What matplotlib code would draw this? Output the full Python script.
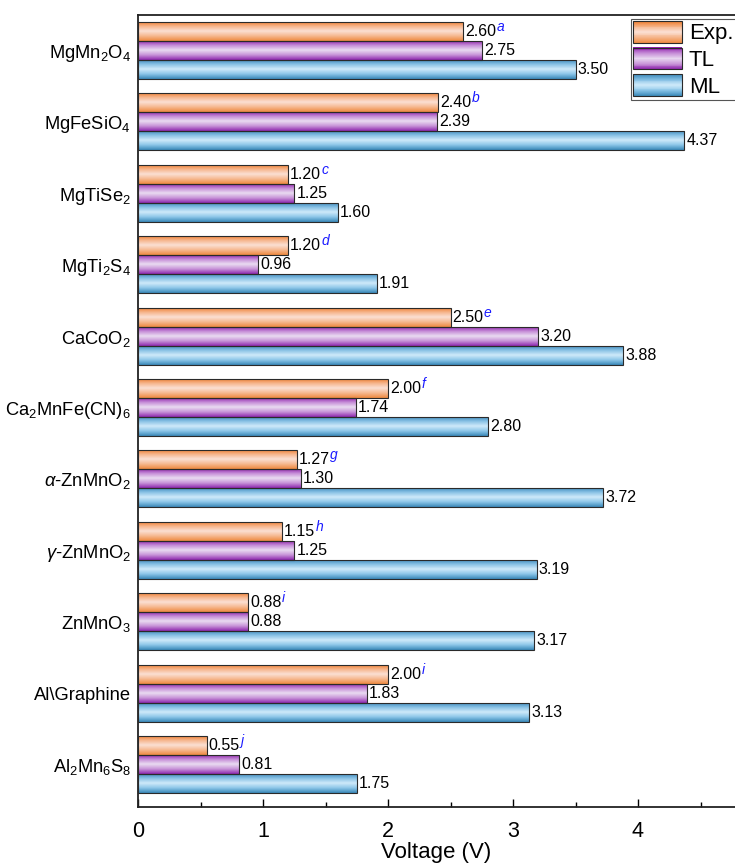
import numpy as np
import matplotlib
matplotlib.use("Agg")
import matplotlib.pyplot as plt
from matplotlib.colors import LinearSegmentedColormap
from matplotlib.patches import Rectangle
from matplotlib.legend_handler import HandlerBase

plt.rcParams["font.family"] = ["Liberation Sans", "DejaVu Sans"]
plt.rcParams["mathtext.fontset"] = "custom"
plt.rcParams["mathtext.rm"] = "Liberation Sans"
plt.rcParams["mathtext.it"] = "Liberation Sans:italic"
plt.rcParams["mathtext.bf"] = "Liberation Sans:bold"

# ---- data (top to bottom) ----
materials = [
    "MgMn$_2$O$_4$", "MgFeSiO$_4$", "MgTiSe$_2$", "MgTi$_2$S$_4$", "CaCoO$_2$",
    "Ca$_2$MnFe(CN)$_6$", r"$\mathit{\alpha}$-ZnMnO$_2$", r"$\mathit{\gamma}$-ZnMnO$_2$",
    "ZnMnO$_3$", "Al\\Graphine", "Al$_2$Mn$_6$S$_8$",
]
exp_v = [2.60, 2.40, 1.20, 1.20, 2.50, 2.00, 1.27, 1.15, 0.88, 2.00, 0.55]
tl_v = [2.75, 2.39, 1.25, 0.96, 3.20, 1.74, 1.30, 1.25, 0.88, 1.83, 0.81]
ml_v = [3.50, 4.37, 1.60, 1.91, 3.88, 2.80, 3.72, 3.19, 3.17, 3.13, 1.75]
refs = ["a", "b", "c", "d", "e", "f", "g", "h", "i", "i", "j"]
series_names = ["Exp.", "TL", "ML"]

# gradient colours: edge, centre, edge
grads = {
    "Exp.": ["#ee7a2a", "#f6b48a", "#fbe0d4", "#f6b890", "#ee8a40"],
    "TL": ["#8a1aa8", "#c48ad6", "#eadcf2", "#c894d8", "#8e28ae"],
    "ML": ["#3a86b8", "#86c0e4", "#cfeafa", "#8cc6e8", "#3a88b8"],
}
cmaps = {k: LinearSegmentedColormap.from_list(k, v) for k, v in grads.items()}

fig = plt.figure(figsize=(7.35, 8.63), dpi=100)
ax = fig.add_axes([138 / 735, 1 - 807 / 863, 1 - 138 / 735, (807 - 15) / 863])

n = len(materials)
ypos = np.arange(n)[::-1].astype(float)
h = 0.8 / 3
grad_img = np.linspace(0, 1, 64).reshape(-1, 1)


def grad_bars(vals, offset, name):
    bars = ax.barh(ypos + offset, vals, height=h, facecolor="none",
                   edgecolor="#2a2a2a", linewidth=0.8, zorder=3)
    for b in bars:
        x0, y0 = b.get_x(), b.get_y()
        im = ax.imshow(grad_img, cmap=cmaps[name], aspect="auto",
                       extent=(x0, x0 + b.get_width(), y0, y0 + b.get_height()),
                       origin="upper", zorder=2, interpolation="bilinear")
        im.set_clip_path(b)
    return bars


grad_bars(exp_v, h, "Exp.")
grad_bars(tl_v, 0, "TL")
grad_bars(ml_v, -h, "ML")

# value labels
for i in range(n):
    t = ax.annotate(f"{exp_v[i]:.2f}", xy=(exp_v[i], ypos[i] + h), xytext=(1.5, 0),
                    textcoords="offset points", va="center", ha="left", fontsize=11.5,
                    zorder=5)
    ax.annotate(refs[i], xy=(1, 0.8), xycoords=t, xytext=(0.3, 0),
                textcoords="offset points", va="center", ha="left", fontsize=10,
                style="italic", color="#1a1aff", zorder=5)
    ax.annotate(f"{tl_v[i]:.2f}", xy=(tl_v[i], ypos[i]), xytext=(1.5, 0),
                textcoords="offset points", va="center", ha="left", fontsize=11.5, zorder=5)
    ax.annotate(f"{ml_v[i]:.2f}", xy=(ml_v[i], ypos[i] - h), xytext=(1.5, 0),
                textcoords="offset points", va="center", ha="left", fontsize=11.5, zorder=5)

ax.set_xlim(0, 597 / 125)
ax.set_ylim(-0.595, n - 1 + 0.497)
ax.set_yticks(ypos)
ax.set_yticklabels(materials, fontsize=13.2)
ax.tick_params(axis="y", length=0, pad=5)
ax.set_xticks([0, 1, 2, 3, 4])
ax.set_xticks([0.5, 1.5, 2.5, 3.5, 4.5], minor=True)
ax.tick_params(axis="x", which="major", direction="in", length=6, width=1.0,
               labelsize=15.5, pad=10, top=False)
ax.tick_params(axis="x", which="minor", direction="in", length=3.5, width=1.0, top=False)
ax.set_xlabel("Voltage (V)", fontsize=16, labelpad=0)
for s in ["left", "bottom", "top"]:
    ax.spines[s].set_linewidth(1.3)
    ax.spines[s].set_color("#222222")
ax.spines["right"].set_visible(False)


class GradHandler(HandlerBase):
    def __init__(self, name):
        super().__init__()
        self.name = name

    def create_artists(self, legend, orig_handle, xdescent, ydescent, width, height,
                       fontsize, trans):
        arts = []
        k = 24
        cm = cmaps[self.name]
        for j in range(k):
            yy = -ydescent + height * j / k
            r = Rectangle((-xdescent, yy), width, height / k + 0.3,
                          facecolor=cm(1 - (j + 0.5) / k), edgecolor="none",
                          transform=trans)
            arts.append(r)
        arts.append(Rectangle((-xdescent, -ydescent), width, height, facecolor="none",
                              edgecolor="#2a2a2a", linewidth=0.8, transform=trans))
        return arts


handles = [Rectangle((0, 0), 1, 1) for _ in series_names]
leg = fig.legend(handles, series_names, loc="upper left",
                 bbox_to_anchor=(631 / 735, 1 - 19 / 863), fontsize=16,
                 handler_map={h_: GradHandler(nm) for h_, nm in zip(handles, series_names)},
                 frameon=True, fancybox=False, edgecolor="#555555", framealpha=1,
                 borderpad=0.1, handlelength=2.2, handleheight=1.1,
                 handletextpad=0.3, labelspacing=0.15, borderaxespad=0)
leg.get_frame().set_linewidth(0.8)

fig.savefig("out.png", dpi=100)
